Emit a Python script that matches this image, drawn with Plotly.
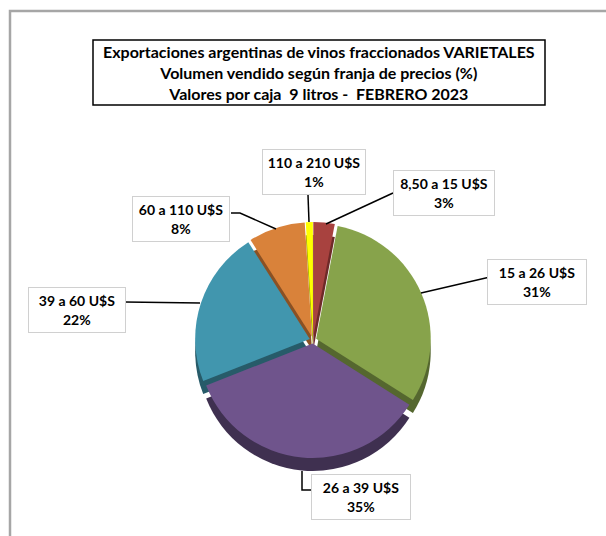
import plotly.graph_objects as go

# ---- data ----
categories = ["8,50 a 15 U$S", "15 a 26 U$S", "26 a 39 U$S", "39 a 60 U$S", "60 a 110 U$S", "110 a 210 U$S"]
shares = [3, 31, 35, 22, 8, 1]
title_lines = [
    "Exportaciones argentinas de vinos fraccionados VARIETALES",
    "Volumen vendido según franja de precios (%)",
    "Valores por caja  9 litros -  FEBRERO 2023",
]

top_colors = ["#A8423F", "#87A34B", "#6F548C", "#4196AE", "#D9823A", "#FFFF00"]
side_colors = ["#6E2A28", "#55672F", "#3F3050", "#275B69", "#8A5124", "#A6A600"]

W, H = 606, 536


def fx(x):
    return x / W


def fy(y):
    return 1 - y / H


cx, cy, half = 313, 340, 118
depth = 13

fig = go.Figure()
# depth (side) pie
fig.add_trace(go.Pie(
    labels=categories, values=shares, sort=False, direction="clockwise", rotation=0,
    marker=dict(colors=side_colors, line=dict(width=0)),
    pull=[0.03] * len(shares), textinfo="none", hoverinfo="skip", showlegend=False,
    domain=dict(x=[fx(cx - half), fx(cx + half)], y=[fy(cy + depth + half), fy(cy + depth - half)]),
))
# top pie
fig.add_trace(go.Pie(
    labels=categories, values=shares, sort=False, direction="clockwise", rotation=0,
    marker=dict(colors=top_colors, line=dict(width=0)),
    pull=[0.03] * len(shares), textinfo="none", showlegend=False,
    domain=dict(x=[fx(cx - half), fx(cx + half)], y=[fy(cy + half), fy(cy - half)]),
))

shapes = []
# outer chart frame
shapes.append(dict(type="rect", xref="paper", yref="paper", x0=fx(10), x1=fx(640), y0=fy(570), y1=fy(11),
                   line=dict(color="#A6A6A6", width=2.5), layer="below"))
# title box
shapes.append(dict(type="rect", xref="paper", yref="paper", x0=fx(93), x1=fx(545), y0=fy(105), y1=fy(40),
                   line=dict(color="black", width=1.5)))

# leader lines (pixel coordinates of label connections)
leaders = [
    [(393, 193), (326, 224)],
    [(490, 277), (421, 293)],
    [(302, 471), (302, 490), (312, 490)],
    [(125, 302), (200, 303)],
    [(231, 213), (240, 213), (276, 229)],
    [(308, 195), (309, 222)],
]
for pts in leaders:
    path = "M " + " L ".join(f"{fx(x)},{fy(y)}" for x, y in pts)
    shapes.append(dict(type="path", xref="paper", yref="paper", path=path,
                       line=dict(color="black", width=1.5)))

annotations = []
annotations.append(dict(
    x=fx(319), y=fy(73), xref="paper", yref="paper", showarrow=False,
    xanchor="center", yanchor="middle",
    text="<b>" + "<br>".join(title_lines) + "</b>",
    font=dict(family="Lato", size=16, color="black"), align="center",
))

# label boxes: centre (px) and size
label_pos = [(444, 193), (537, 282), (361, 497), (77, 310), (181, 219), (314, 172)]
label_w = [100, 98, 98, 96, 96, 102]
for cat, val, (x, y), w in zip(categories, shares, label_pos, label_w):
    annotations.append(dict(
        x=fx(x), y=fy(y), xref="paper", yref="paper", showarrow=False,
        xanchor="center", yanchor="middle",
        text=f"<b>{cat}<br>{val}%</b>", align="center",
        font=dict(family="Lato", size=14, color="black"),
        bgcolor="white", bordercolor="#D0D0D0", borderwidth=1, borderpad=0,
        width=w, height=44,
    ))

fig.update_layout(
    width=W, height=H, margin=dict(l=0, r=0, t=0, b=0),
    paper_bgcolor="white", plot_bgcolor="white",
    shapes=shapes, annotations=annotations,
)

fig.write_html("out.html", config={"displayModeBar": False},
               post_script="document.body.style.margin='0';")
